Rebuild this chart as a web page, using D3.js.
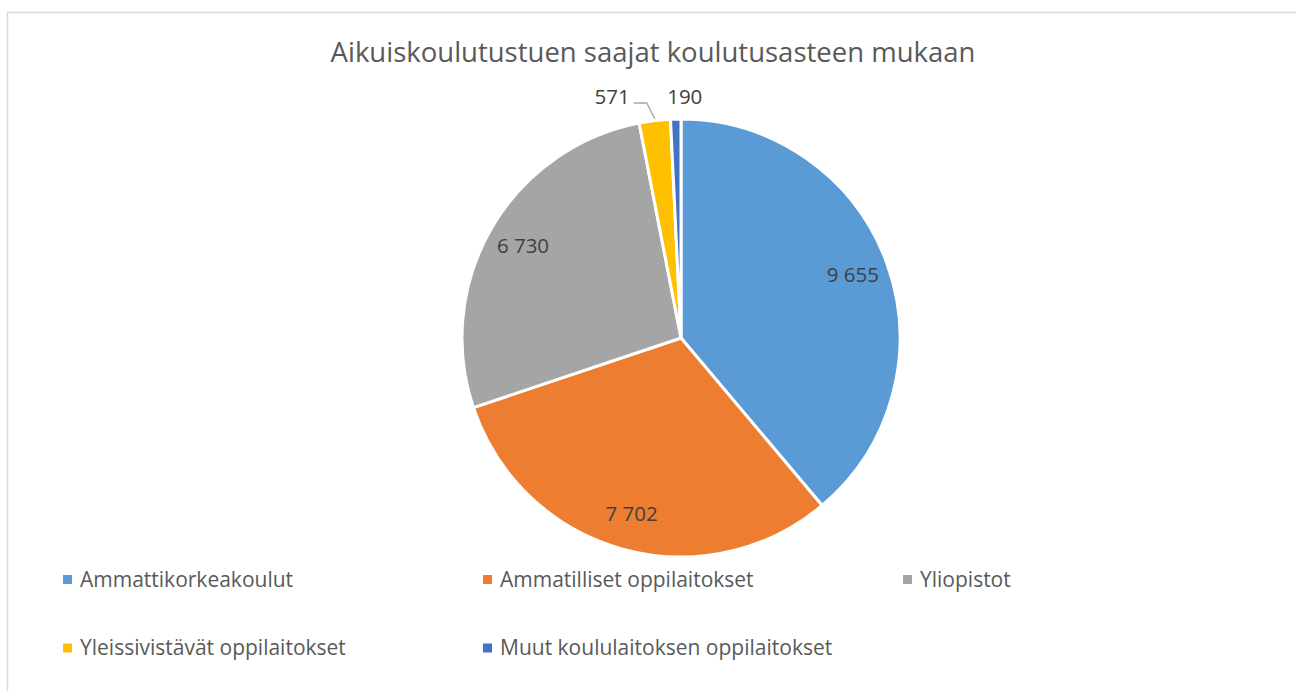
<!DOCTYPE html>
<html>
<head>
<meta charset="utf-8">
<script src="https://cdn.jsdelivr.net/npm/d3@7"></script>
<style>
  html, body { margin: 0; padding: 0; background: #fff; }
  svg { display: block; font-family: "Open Sans", "Noto Sans", sans-serif; }
</style>
</head>
<body>
<svg id="chart" width="1296" height="691"></svg>
<script>
// Aikuiskoulutustuen saajat koulutusasteittain
const categories = [
  "Ammattikorkeakoulut",
  "Ammatilliset oppilaitokset",
  "Yliopistot",
  "Yleissivistävät oppilaitokset",
  "Muut koululaitoksen oppilaitokset"
];
const values = [9655, 7702, 6730, 571, 190];
const colors = ["#5B9BD5", "#ED7D31", "#A5A5A5", "#FFC000", "#4472C4"];
const title = "Aikuiskoulutustuen saajat koulutusasteen mukaan";

const W = 1296, H = 691;
const svg = d3.select("#chart");

// chart area frame
svg.append("rect")
  .attr("x", 7.5).attr("y", 12.5)
  .attr("width", W + 20).attr("height", H + 20)
  .attr("fill", "#fff").attr("stroke", "#d9d9d9").attr("stroke-width", 1.5);

svg.append("text")
  .attr("x", 653).attr("y", 62)
  .attr("text-anchor", "middle")
  .attr("fill", "#595959")
  .attr("font-size", 27.5)
  .text(title);

const cx = 681, cy = 338, R = 219;
const fmt = v => d3.format(",")(v).replace(/,/g, " ");

const data = categories.map((c, i) => ({ name: c, value: values[i], color: colors[i] }));
const pie = d3.pie().value(d => d.value).sort(null);
const arcs = pie(data);
const arc = d3.arc().innerRadius(0).outerRadius(R);
const labelArc = d3.arc().innerRadius(R * 0.835).outerRadius(R * 0.835);

const g = svg.append("g").attr("transform", `translate(${cx},${cy})`);

g.selectAll("path.slice")
  .data(arcs)
  .join("path")
  .attr("class", "slice")
  .attr("d", arc)
  .attr("fill", d => d.data.color)
  .attr("stroke", "#fff")
  .attr("stroke-width", 3)
  .attr("stroke-linejoin", "round");

// labels inside the large slices
const share = d => (d.endAngle - d.startAngle) / (2 * Math.PI);
g.selectAll("text.inner")
  .data(arcs.filter(d => share(d) > 0.05))
  .join("text")
  .attr("class", "inner")
  .attr("transform", d => `translate(${labelArc.centroid(d)})`)
  .attr("text-anchor", "middle")
  .attr("dy", "0.35em")
  .attr("fill", "#404040")
  .attr("font-size", 20.5)
  .text(d => fmt(d.data.value));

// small slices: labels outside the rim
const small = arcs.filter(d => share(d) <= 0.05);
const mid = d => (d.startAngle + d.endAngle) / 2;
const rimY = -R - 16;

small.forEach((d, i) => {
  const a = mid(d);
  const px = Math.sin(a) * R, py = -Math.cos(a) * R;
  if (i === 0) {
    // leader line for the yellow slice
    const ex = px - 8, ey = rimY;
    g.append("polyline")
      .attr("points", `${px},${py - 2} ${ex},${ey} ${ex - 13},${ey}`)
      .attr("fill", "none").attr("stroke", "#a6a6a6").attr("stroke-width", 1.3);
    g.append("text")
      .attr("x", ex - 17).attr("y", ey - 6)
      .attr("dy", "0.35em")
      .attr("text-anchor", "end")
      .attr("fill", "#404040").attr("font-size", 20.5)
      .text(fmt(d.data.value));
  } else {
    g.append("text")
      .attr("x", px + 9).attr("y", rimY - 6)
      .attr("dy", "0.35em")
      .attr("text-anchor", "middle")
      .attr("fill", "#404040").attr("font-size", 20.5)
      .text(fmt(d.data.value));
  }
});

// legend: three columns, two rows
const colX = d3.scalePoint().domain([0, 1, 2]).range([63, 903]);
const rowY = d3.scalePoint().domain([0, 1]).range([579.5, 648]);
const lg = svg.append("g").selectAll("g")
  .data(data)
  .join("g")
  .attr("transform", (d, i) => `translate(${colX(i % 3)},${rowY(Math.floor(i / 3))})`);
lg.append("rect")
  .attr("x", 0).attr("y", -4.5).attr("width", 9).attr("height", 9)
  .attr("fill", d => d.color);
lg.append("text")
  .attr("x", 17).attr("dy", "0.35em")
  .attr("fill", "#595959").attr("font-size", 21)
  .text(d => d.name);
</script>
</body>
</html>
